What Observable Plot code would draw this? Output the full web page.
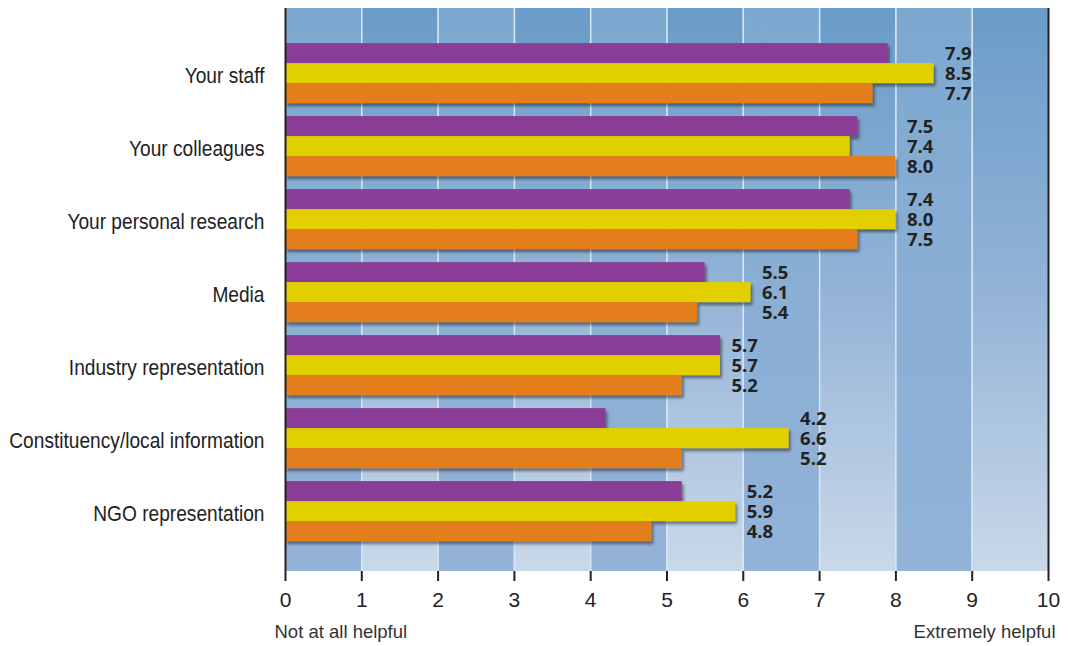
<!DOCTYPE html>
<html>
<head>
<meta charset="utf-8">
<script src="https://cdn.jsdelivr.net/npm/d3@7"></script>
<script src="https://cdn.jsdelivr.net/npm/@observablehq/plot@0.6"></script>
<style>
  html, body { margin: 0; padding: 0; background: #fff; }
</style>
</head>
<body>
<div id="chart"></div>
<script>
const categories = ["Your staff", "Your colleagues", "Your personal research", "Media",
  "Industry representation", "Constituency/local information", "NGO representation"];
const purpleValues = [7.9, 7.5, 7.4, 5.5, 5.7, 4.2, 5.2];
const yellowValues = [8.5, 7.4, 8.0, 6.1, 5.7, 6.6, 5.9];
const orangeValues = [7.7, 8.0, 7.5, 5.4, 5.2, 5.2, 4.8];
const xTicks = [0, 1, 2, 3, 4, 5, 6, 7, 8, 9, 10];
const scaleEnds = ["Not at all helpful", "Extremely helpful"];

const rows = categories.map((c, i) => ({
  category: c,
  purple: purpleValues[i],
  yellow: yellowValues[i],
  orange: orangeValues[i],
  max: Math.max(purpleValues[i], yellowValues[i], orangeValues[i])
}));
const columns = xTicks.slice(0, -1);

const sans = "'Liberation Sans', Arial, sans-serif";
const labelFont = "'Open Sans', sans-serif";

const valueText = (key, dy) => Plot.text(rows, {
  x: "max", y: "category", text: d => d[key].toFixed(1),
  dx: 11, dy, textAnchor: "start", fontWeight: 700, fontSize: 18.5,
  fontFamily: labelFont, fill: "#222"
});

const chart = Plot.plot({
  width: 1069,
  height: 646,
  marginLeft: 285,
  marginRight: 21,
  marginTop: 8,
  marginBottom: 75,
  style: { background: "white", overflow: "visible" },
  x: { domain: [0, 10] },
  y: { domain: categories, paddingInner: 0, paddingOuter: 0.356, align: 0.55, round: false },
  marks: [
    Plot.rect(columns.filter(i => i % 2 === 0), { x1: d => d, x2: d => d + 1, fill: "url(#gEven)" }),
    Plot.rect(columns.filter(i => i % 2 === 1), { x1: d => d, x2: d => d + 1, fill: "url(#gOdd)" }),
    Plot.ruleX(xTicks.slice(1, -1), { stroke: "#d8e7f4", strokeWidth: 1.5 }),
    Plot.barX(rows, { y: "category", x: "purple", fill: "#8a3d97", insetTop: 6.5, insetBottom: 46.5 }),
    Plot.barX(rows, { y: "category", x: "yellow", fill: "#e2cf00", insetTop: 26.5, insetBottom: 26.5 }),
    Plot.barX(rows, { y: "category", x: "orange", fill: "#e47d1b", insetTop: 46.5, insetBottom: 6.5 }),
    valueText("purple", -20),
    valueText("yellow", 0),
    valueText("orange", 20),
    Plot.ruleX([0, 10], { stroke: "#222", strokeWidth: 2 }),
    Plot.axisY({ tickSize: 0, tickPadding: 21, fontSize: 22, fontFamily: sans, fill: "#222", dy: 2, label: null }),
    Plot.axisX({ ticks: xTicks, tickSize: 10, tickPadding: 11, fontSize: 21, fontFamily: sans,
      fill: "#222", stroke: "#222", strokeWidth: 2, line: true, label: null }),
    Plot.text([scaleEnds[0]], { x: () => 0, frameAnchor: "bottom", dy: 66, dx: -11, textAnchor: "start",
      fontSize: 18.5, fontFamily: sans, fill: "#333" }),
    Plot.text([scaleEnds[1]], { x: () => 10, frameAnchor: "bottom", dy: 66, dx: 7, textAnchor: "end",
      fontSize: 18.5, fontFamily: sans, fill: "#333" })
  ]
});

const defs = `
<defs>
  <linearGradient id="gEven" x1="0" y1="0" x2="0" y2="1">
    <stop offset="0" stop-color="#7ca8d0"/>
    <stop offset="0.5" stop-color="#8aaed4"/>
    <stop offset="1" stop-color="#93b3d8"/>
  </linearGradient>
  <linearGradient id="gOdd" x1="0" y1="0" x2="0" y2="1">
    <stop offset="0" stop-color="#6a9cc9"/>
    <stop offset="0.5" stop-color="#93b3d6"/>
    <stop offset="1" stop-color="#c9d8e9"/>
  </linearGradient>
  <filter id="shadow" x="-5%" y="-10%" width="115%" height="130%">
    <feDropShadow dx="2" dy="3" stdDeviation="1.5" flood-color="#000" flood-opacity="0.45"/>
  </filter>
</defs>`;
chart.insertAdjacentHTML("afterbegin", defs);
chart.querySelectorAll('g[aria-label="bar"]').forEach(g => g.setAttribute("filter", "url(#shadow)"));
// condense the category labels (the reference uses a condensed face)
chart.querySelectorAll('g[aria-label="y-axis tick label"] text').forEach(t => {
  const tr = t.getAttribute("transform") || "";
  t.setAttribute("transform", tr + " scale(0.87,1)");
});
document.getElementById("chart").appendChild(chart);
</script>
</body>
</html>
